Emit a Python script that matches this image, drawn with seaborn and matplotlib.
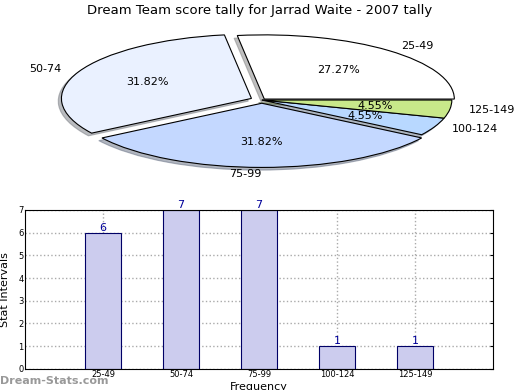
import numpy as np
import pandas as pd
import matplotlib
matplotlib.use('Agg')
import matplotlib.pyplot as plt
import seaborn as sns

# 数据
intervals = ['25-49', '50-74', '75-99', '100-124', '125-149']
counts = [6, 7, 7, 1, 1]
pie_colors = ['#ffffff', '#eaf1ff', '#c4d8ff', '#b8d8ff', '#c8e88a']
explode = [0.02, 0.06, 0.05, 0.0, 0.0]

sns.set_style('white')
plt.rcParams['font.family'] = ['DejaVu Sans']
plt.rcParams['text.color'] = 'black'
plt.rcParams['axes.labelcolor'] = 'black'
plt.rcParams['xtick.color'] = 'black'
plt.rcParams['ytick.color'] = 'black'

fig = plt.figure(figsize=(5.2, 3.9), dpi=100)

# 饼图（椭圆形）
ax1 = fig.add_axes([0.065, 0.546, 0.877, 0.395])
wedges, texts, autotexts = ax1.pie(
    counts, labels=intervals, colors=pie_colors, explode=explode,
    autopct='%.2f%%', pctdistance=0.6, labeldistance=1.1,
    shadow={'ox': -0.012, 'oy': -0.03, 'shade': 0.5},
    startangle=0, counterclock=True,
    wedgeprops={'edgecolor': 'black', 'linewidth': 0.8},
    textprops={'fontsize': 8})
texts[2].set_ha('right')
ax1.set_aspect('auto')
ax1.set_xlim(-1.2, 1.2)
ax1.set_ylim(-1.2, 1.2)
ax1.axis('off')

fig.text(0.5, 0.974, 'Dream Team score tally for Jarrad Waite - 2007 tally',
         ha='center', va='center', fontsize=9.5)

# 柱状图
ax2 = fig.add_axes([0.048, 0.054, 0.9, 0.408])
df = pd.DataFrame({'interval': intervals, 'count': counts})
sns.barplot(data=df, x='interval', y='count', order=intervals, color='#ccccee',
            saturation=1, edgecolor='#000066', linewidth=0.8, width=0.46, ax=ax2)
ax2.set_xlim(-1, 5)
ax2.set_ylim(0, 7)
ax2.set_yticks(range(8))
ax2.tick_params(labelsize=6, length=2, pad=1, direction='in', right=True)
ax2.grid(True, linestyle=':', color='#aaaaaa', linewidth=1)
ax2.set_axisbelow(True)
for s in ax2.spines.values():
    s.set_color('black')
    s.set_linewidth(0.8)
for i, v in enumerate(counts):
    ax2.text(i, v, str(v), ha='center', va='bottom', fontsize=8, color='#000099')
ax2.set_xlabel('Frequency', fontsize=8, labelpad=2)
ax2.set_ylabel('Stat Intervals', fontsize=8)
ax2.yaxis.set_label_coords(-0.033, 0.5)

fig.text(0.0, 0.022, 'Dream-Stats.com', fontsize=8, color='#999999',
         fontweight='bold', ha='left', va='center')

fig.savefig('out.png', dpi=100)
